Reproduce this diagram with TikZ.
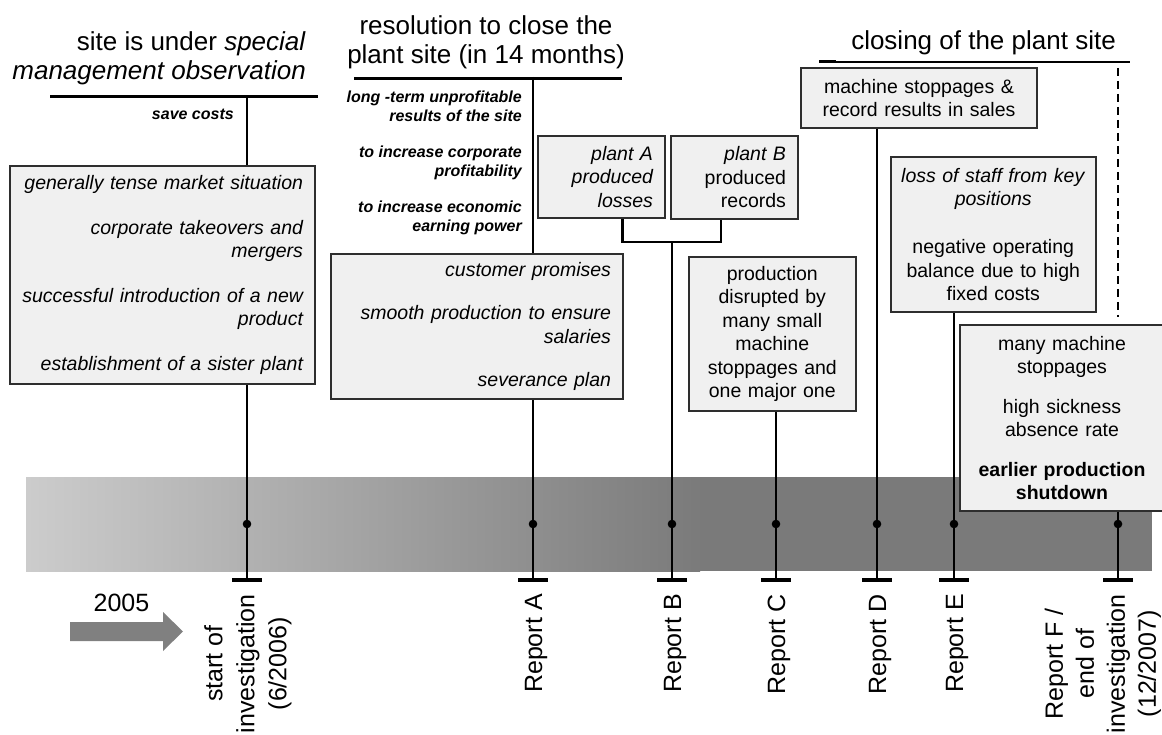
\documentclass[tikz,border=0pt]{standalone}
\usepackage{fontspec}
\setmainfont{Liberation Sans}
\usepackage{tikz}
\usetikzlibrary{positioning}

\definecolor{boxfill}{gray}{0.94}
\definecolor{boxline}{gray}{0.18}
\definecolor{bandlight}{gray}{0.80}
\definecolor{banddark}{gray}{0.48}
\definecolor{arrowgray}{gray}{0.50}

\begin{document}
\begin{tikzpicture}[x=1pt,y=-1pt,
                    stem/.style={line width=2.8pt, black},
                    rule/.style={line width=3pt, black},
                    tbar/.style={line width=3.5pt, black},
                    infobox/.style={draw=boxline, line width=2pt, fill=boxfill, inner sep=0pt,
                                    font=\fontsize{19.5}{23.5}\selectfont},
                    reason/.style={inner sep=0pt, align=right,
                                   font=\fontsize{16}{19}\selectfont\bfseries\itshape},
                    heading/.style={inner sep=0pt, font=\fontsize{26}{29}\selectfont},
                    datelabel/.style={inner sep=0pt, rotate=90, anchor=east, align=center,
                                      font=\fontsize{25}{32}\selectfont},
                   ]

\useasboundingbox (0,0) rectangle (1162,735);

% time band
\shade[left color=bandlight, right color=banddark] (26,477) rectangle (700,571);
\fill[banddark] (700,477) rectangle (1152,571);

\coordinate (tS) at (247,580);
\coordinate (tA) at (533,580);
\coordinate (tB) at (672,580);
\coordinate (tC) at (776,580);
\coordinate (tD) at (877,580);
\coordinate (tE) at (954,580);
\coordinate (tF) at (1118,580);
\coordinate (dotrow) at (0,524);

% headings
\node[heading, align=right, anchor=south east] (hObs) at (306,85)
     {site is under \textit{special}\\ \textit{management observation}};
\node[heading, align=center, anchor=south] (hRes) at (486,69)
     {resolution to close the\\ plant site (in 14 months)};
\node[heading, anchor=south] (hClose) at (983.5,55) {closing of the plant site};

\coordinate (r1a) at (50,97);   \coordinate (r1b) at (318,97);
\coordinate (r2a) at (354,79);  \coordinate (r2b) at (622,79);
\coordinate (r3a) at (819,62);  \coordinate (r3b) at (1130,62);
\draw[rule] (r1a) -- (r1b);
\draw[rule] (r2a) -- (r2b);
\draw[line width=2pt] (r3a) -- (r3b);
\draw[line width=3pt] (r3a) -- ([xshift=17pt]r3a);

% reasons
\node[reason, anchor=east] (save) at (234,114) {save costs};
\node[reason, anchor=east] (why) at (522,163)
     {long -term unprofitable\\ results of the site\\[17pt]
      to increase corporate\\ profitability\\[17pt]
      to increase economic\\ earning power};

% boxes
\node[infobox, text width=281pt, align=right, minimum width=305pt, minimum height=218pt]
     (bMarket) at (162.5,275)
     {\itshape generally tense market situation\\[21pt]
      corporate takeovers and\\ mergers\\[21pt]
      successful introduction of a new\\ product\\[21pt]
      establishment of a sister plant};
\node[infobox, text width=268pt, align=right, minimum width=292pt, minimum height=145pt]
     (bCust) at (477,326.5)
     {\itshape customer promises\\[20pt]
      smooth production to ensure\\ salaries\\[20pt]
      severance plan};
\node[infobox, text width=103pt, align=right, minimum width=127pt, minimum height=82pt]
     (bPlantA) at (601.5,177) {\itshape plant A\\ produced\\ losses};
\node[infobox, text width=104pt, align=right, minimum width=127pt, minimum height=83pt]
     (bPlantB) at (734,177.5) {\textit{plant B}\\ produced\\ records};
\node[infobox, text width=212pt, align=center, minimum width=236pt, minimum height=60pt]
     (bSales) at (919,98) {machine stoppages \&\\ record results in sales};
\node[infobox, text width=150pt, align=center, minimum width=167.5pt, minimum height=154pt]
     (bProd) at (772.3,334)
     {production\\ disrupted by\\ many small\\ machine\\ stoppages and\\ one major one};
\node[infobox, text width=190pt, align=center, minimum width=204.5pt, minimum height=155pt]
     (bStaff) at (993.25,234.5)
     {\textit{loss of staff from key}\\ \textit{positions}\\[24.5pt]
      negative operating\\ balance due to high\\ fixed costs};
\node[infobox, text width=185pt, align=center, minimum width=204pt, minimum height=185pt]
     (bShut) at (1062,418)
     {many machine\\ stoppages\\[16pt]
      high sickness\\ absence rate\\[16pt]
      \textbf{earlier production}\\ \textbf{shutdown}};

% stems
\draw[stem] (tS |- r1a) -- (tS |- bMarket.north);
\draw[stem] (tS |- bMarket.south) -- (tS);
\draw[stem] ([yshift=2pt]tA |- r2a) -- (tA |- bCust.north);
\draw[stem] (tA |- bCust.south) -- (tA);
\coordinate (brL) at (622.5,242);
\coordinate (brR) at (721,242);
\draw[stem] (brL |- bPlantA.south) -- (brL) -- (brR) -- (brR |- bPlantB.south);
\draw[stem] (tB |- brL) -- (tB);
\draw[stem] (tC |- bProd.south) -- (tC);
\draw[stem] (tD |- bSales.south) -- (tD);
\draw[stem] (tE |- bStaff.south) -- (tE);
\draw[stem, dash pattern=on 8pt off 5pt] ([yshift=-6pt]tF |- r3a) -- ([yshift=7pt]tF |- bShut.north);
\draw[stem] (tF |- bShut.south) -- (tF);

\foreach \t in {tS,tA,tB,tC,tD,tE,tF}{
  \fill (\t |- dotrow) circle (4.3pt);
  \draw[tbar] ([xshift=-15pt]\t) -- ([xshift=15pt]\t);
}

% labels below the band
\node[datelabel] (lS) at (248,594) {start of\\ investigation\\ (6/2006)};
\node[datelabel] (lA) at (536,594) {Report A};
\node[datelabel] (lB) at (675,594) {Report B};
\node[datelabel] (lC) at (779,594) {Report C};
\node[datelabel] (lD) at (880,594) {Report D};
\node[datelabel] (lE) at (957,594) {Report E};
\node[datelabel, font=\fontsize{25}{31}\selectfont] (lF) at (1103,594)
     {Report F /\\ end of\\ investigation\\ (12/2007)};

\fill[arrowgray] (70,622) -- (163,622) -- (163,612) -- (183,631.5)
                 -- (163,651) -- (163,641) -- (70,641) -- cycle;
\node[inner sep=0pt, font=\fontsize{25}{30}\selectfont] (yr) at (121.5,603) {2005};

\end{tikzpicture}
\end{document}
